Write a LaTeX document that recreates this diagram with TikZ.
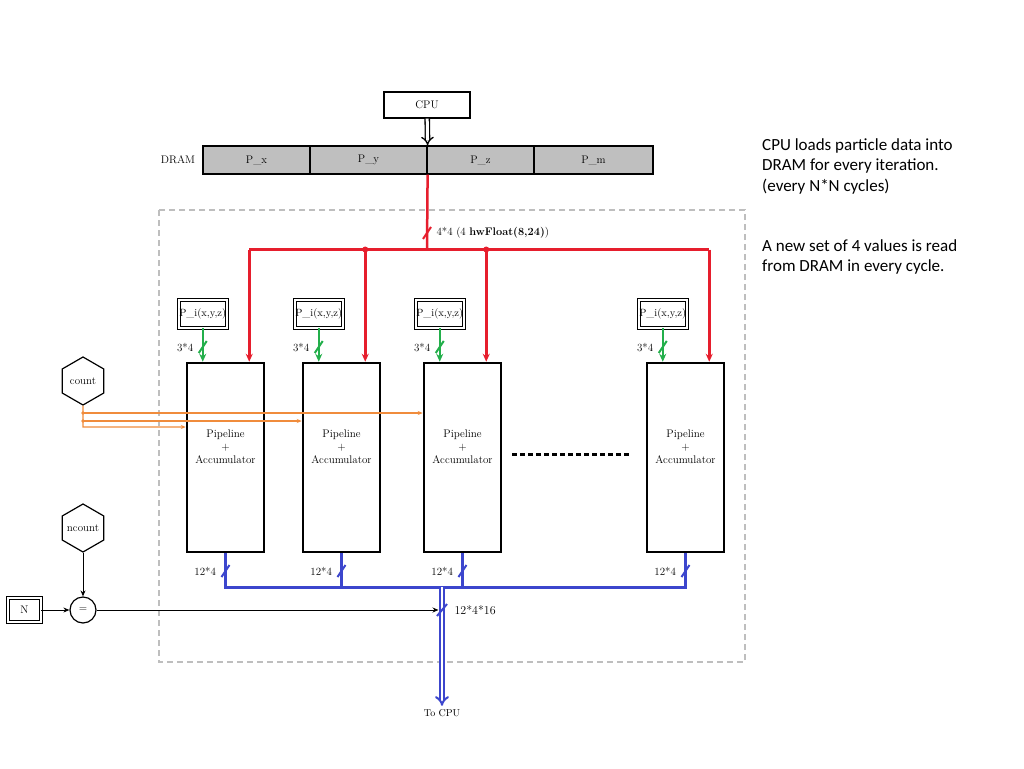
\documentclass[tikz,border=0pt]{standalone}
\usepackage{fontspec}
\newfontfamily\notefont{Carlito}
\usetikzlibrary{arrows.meta,shapes.geometric}
\definecolor{busred}{RGB}{230,30,45}
\definecolor{busgreen}{RGB}{35,175,75}
\definecolor{busblue}{RGB}{60,70,205}
\definecolor{busorange}{RGB}{240,140,60}
\definecolor{framegray}{RGB}{190,190,190}
\tikzset{
  cell/.style={draw,fill=gray!50,line width=1.2pt,minimum width=#1,minimum height=28pt,inner sep=0pt},
  pebox/.style={draw,line width=2.5pt,minimum width=77pt,minimum height=189pt,inner sep=0pt,
    label={[align=center,yshift=11pt]center:Pipeline\\+\\Accumulator}},
  regbox/.style={draw,double,double distance=2pt,line width=0.8pt,inner sep=0pt},
  hexnode/.style={draw,regular polygon,regular polygon sides=6,regular polygon rotate=30,
    minimum size=48pt,inner sep=0pt,line width=1.2pt},
  wire/.style={line width=2.5pt,-{Stealth[length=8pt,width=7pt]}},
  thinwire/.style={line width=1pt,-{Stealth[length=6pt,width=5pt]}},
  orangewire/.style={busorange,line width=1.2pt,-{Stealth[length=5pt,width=4pt]}},
}
\begin{document}
\begin{tikzpicture}[x=1pt,y=-1pt,font=\fontsize{11}{13}\selectfont]
  \useasboundingbox (0,0) rectangle (1024,768);
  \draw[framegray,line width=1.2pt,dash pattern=on 6pt off 4pt] (159,210) rectangle (745,662);
  \node[draw,line width=1.2pt,minimum width=86pt,minimum height=26pt,inner sep=0pt] (cpu) at (427,105) {CPU};
  \node (dram) at (178,160) {DRAM};
  \node[cell=107pt] (px) at (256.5,160) {P\_x};
  \node[cell=117pt] (py) at (368.5,160) {P\_y};
  \node[cell=107pt] (pz) at (480.5,160) {P\_z};
  \node[cell=119pt] (pm) at (593.5,160) {P\_m};
  \draw[double,double distance=3pt,line width=1.3pt,-{Implies[length=9pt,width=14pt]}] (cpu) -- (py.north east);
  \foreach \i/\x in {1/225.5,2/341.5,3/462.5,4/685.5} {
    \node[pebox] (pe\i) at (\x,457.5) {};
    \node[regbox,minimum width=48pt,minimum height=28pt] (pi\i) at ([xshift=17pt]pe\i.west |- 0,314) {\fontsize{10.5}{12}\selectfont P\_i(x,y,z)};
    \draw[wire,busgreen] (pi\i) -- (pi\i |- pe\i.north);
    \draw[busgreen,line width=2pt] (pi\i |- 0,347) +(-4,6) -- +(4,-6);
    \node[left] (gl\i) at ([xshift=-6pt]pi\i |- 0,347) {3*4};
  }
  \coordinate (tap) at (427,249.5);
  \draw[busred,line width=2.5pt] (py.south east) -- (tap);
  \draw[busred,line width=2pt] (427,233) +(-4,6) -- +(4,-6);
  \node[anchor=west] (rl) at (433,233) {4*4 (4 \textbf{hwFloat(8,24)})};
  \draw[busred,line width=2.5pt] ([xshift=-16pt]pe1.north east |- tap) -- ([xshift=-16pt]pe4.north east |- tap);
  \foreach \i in {1,...,4}
    \draw[wire,busred] ([xshift=-16pt]pe\i.north east |- tap) -- ([xshift=-16pt]pe\i.north east);
  \foreach \i in {2,3}
    \fill[busred] ([xshift=-16pt]pe\i.north east |- tap) circle[radius=3pt];
  \draw[line width=3pt,dash pattern=on 4.5pt off 3.5pt] ([xshift=10pt,yshift=3pt]pe3.east) -- ([xshift=-15pt,yshift=3pt]pe4.west);
  \node[hexnode] (count) at (83,381) {count};
  \coordinate (o1) at (83,413);
  \coordinate (o2) at (83,421);
  \coordinate (o3) at (83,427);
  \draw[orangewire] (count.south) -- (o3) -- (o3 -| pe1.west);
  \draw[orangewire] (o2) -- (o2 -| pe2.west);
  \draw[orangewire] (o1) -- (o1 -| pe3.west);
  \fill[busorange] (o1) circle[radius=1.8pt] (o2) circle[radius=1.8pt];
  \coordinate (bus) at (0,587);
  \draw[busblue,line width=3pt] (pe1.south) -- (pe1.south |- bus) -- (pe4.south |- bus) -- (pe4.south);
  \foreach \i in {2,3}
    \draw[busblue,line width=2.5pt] (pe\i.south) -- (pe\i.south |- bus);
  \foreach \i in {1,...,4} {
    \draw[busblue,line width=2pt] (pe\i.south |- 0,571) +(-4,6) -- +(4,-6);
    \node[left] (bl\i) at ([xshift=-6pt]pe\i.south |- 0,571) {12*4};
  }
  \node[hexnode] (ncount) at (83,528) {\makebox[0pt]{ncount}};
  \node[draw,circle,line width=1.2pt,minimum size=26pt,inner sep=0pt] (eq) at (83,610) {=};
  \node[regbox,minimum width=33pt,minimum height=24pt] (n) at (24.5,610) {N};
  \node (tocpu) at (442,713) {\fontsize{10}{12}\selectfont To CPU};
  \coordinate (join) at (438.5,610);
  \draw[thinwire] (ncount) -- (eq);
  \draw[thinwire] (n) -- (eq);
  \draw[thinwire] (eq) -- (join);
  \draw[busblue,double,double distance=2.5pt,line width=2pt,-{Implies[length=9pt,width=15pt]}] (442,587) -- (tocpu);
  \draw[busblue,line width=2pt] (442,610) +(-5,6) -- +(5,-6);
  \node[anchor=west] (ol) at (451,610) {\fontsize{12}{14}\selectfont 12*4*16};
  \node[anchor=north west,inner sep=0pt,align=left,font=\notefont\fontsize{17}{20.5}\selectfont] (note1) at (762,138)
    {CPU loads particle data into\\DRAM for every iteration.\\(every N*N cycles)};
  \node[anchor=north west,inner sep=0pt,align=left,font=\notefont\fontsize{17}{20.5}\selectfont] (note2) at (762,239)
    {A new set of 4 values is read\\from DRAM in every cycle.};
\end{tikzpicture}
\end{document}
